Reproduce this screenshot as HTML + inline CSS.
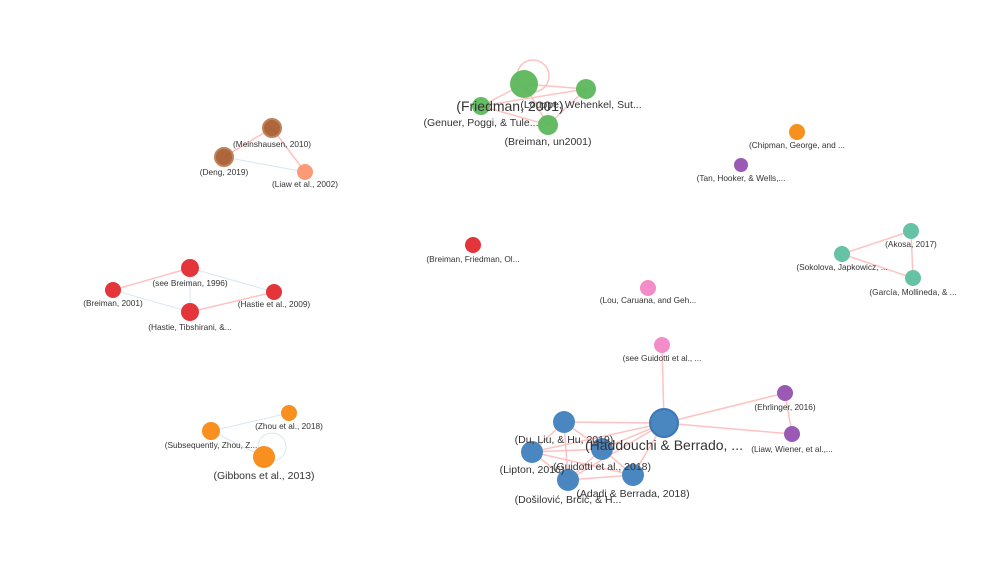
<!DOCTYPE html>
<html><head><meta charset="utf-8"><style>
html,body{margin:0;padding:0;background:#fff;}
svg{display:block;font-family:"Liberation Sans",sans-serif;}
.s{font-size:8.3px;fill:#333;text-anchor:middle}
.m{font-size:10.5px;fill:#333;text-anchor:middle}
.l{font-size:14px;fill:#333;text-anchor:middle}
.e{stroke:#ffb3b3;stroke-width:1.5;fill:none;opacity:.8}
.b{stroke:#cfe0f0;stroke-width:1;fill:none;opacity:.8}
</style></head><body>
<svg width="1000" height="588" viewBox="0 0 1000 588">
<circle cx="533" cy="76" r="16" class="e"/>
<line x1="524" y1="84" x2="481" y2="106" class="e"/>
<line x1="524" y1="84" x2="586" y2="89" class="e"/>
<line x1="524" y1="84" x2="548" y2="125" class="e"/>
<line x1="481" y1="106" x2="586" y2="89" class="e"/>
<line x1="481" y1="106" x2="548" y2="125" class="e"/>
<line x1="586" y1="89" x2="548" y2="125" class="e"/>
<line x1="272" y1="128" x2="224" y2="157" class="e"/>
<line x1="272" y1="128" x2="305" y2="172" class="e"/>
<line x1="224" y1="157" x2="305" y2="172" class="b"/>
<line x1="113" y1="290" x2="190" y2="268" class="e"/>
<line x1="190" y1="312" x2="274" y2="292" class="e"/>
<line x1="113" y1="290" x2="190" y2="312" class="b"/>
<line x1="190" y1="268" x2="274" y2="292" class="b"/>
<line x1="190" y1="268" x2="190" y2="312" class="b"/>
<line x1="911" y1="231" x2="842" y2="254" class="e"/>
<line x1="911" y1="231" x2="913" y2="278" class="e"/>
<line x1="842" y1="254" x2="913" y2="278" class="e"/>
<line x1="289" y1="413" x2="211" y2="431" class="b"/>
<line x1="211" y1="431" x2="264" y2="457" class="b"/>
<circle cx="272" cy="447" r="14" class="b"/>
<line x1="662" y1="345" x2="664" y2="423" class="e"/>
<line x1="664" y1="423" x2="785" y2="393" class="e"/>
<line x1="664" y1="423" x2="792" y2="434" class="e"/>
<line x1="785" y1="393" x2="792" y2="434" class="e"/>
<line x1="664" y1="423" x2="564" y2="422" class="e"/>
<line x1="664" y1="423" x2="532" y2="452" class="e"/>
<line x1="664" y1="423" x2="602" y2="449" class="e"/>
<line x1="664" y1="423" x2="568" y2="480" class="e"/>
<line x1="664" y1="423" x2="633" y2="475" class="e"/>
<line x1="564" y1="422" x2="532" y2="452" class="e"/>
<line x1="564" y1="422" x2="602" y2="449" class="e"/>
<line x1="564" y1="422" x2="568" y2="480" class="e"/>
<line x1="532" y1="452" x2="602" y2="449" class="e"/>
<line x1="532" y1="452" x2="568" y2="480" class="e"/>
<line x1="532" y1="452" x2="633" y2="475" class="e"/>
<line x1="602" y1="449" x2="633" y2="475" class="e"/>
<line x1="602" y1="449" x2="568" y2="480" class="e"/>
<line x1="568" y1="480" x2="633" y2="475" class="e"/>
<g fill="#5cb85c" opacity=".95">
<circle cx="524" cy="84" r="14"/><circle cx="481" cy="106" r="9"/><circle cx="586" cy="89" r="10"/><circle cx="548" cy="125" r="10"/>
</g>
<circle cx="272" cy="128" r="9" fill="#a65628" stroke="#b8774a" stroke-width="2" opacity=".9"/>
<circle cx="224" cy="157" r="9" fill="#a65628" stroke="#b8774a" stroke-width="2" opacity=".9"/>
<circle cx="305" cy="172" r="8" fill="#fc9a78"/>
<circle cx="797" cy="132" r="8" fill="#f7901e"/>
<circle cx="741" cy="165" r="7" fill="#9b59b6"/>
<g fill="#e3353a"><circle cx="473" cy="245" r="8"/><circle cx="190" cy="268" r="9"/><circle cx="113" cy="290" r="8"/><circle cx="274" cy="292" r="8"/><circle cx="190" cy="312" r="9"/></g>
<g fill="#66c2a5"><circle cx="911" cy="231" r="8"/><circle cx="842" cy="254" r="8"/><circle cx="913" cy="278" r="8"/></g>
<g fill="#f48cc8"><circle cx="648" cy="288" r="8"/><circle cx="662" cy="345" r="8"/></g>
<g fill="#9b59b6"><circle cx="785" cy="393" r="8"/><circle cx="792" cy="434" r="8"/></g>
<g fill="#f7901e"><circle cx="289" cy="413" r="8"/><circle cx="211" cy="431" r="9"/><circle cx="264" cy="457" r="11"/></g>
<g fill="#4a86c0"><circle cx="664" cy="423" r="14" stroke="#3a78b5" stroke-width="2"/><circle cx="564" cy="422" r="11"/><circle cx="532" cy="452" r="11"/><circle cx="602" cy="449" r="11"/><circle cx="568" cy="480" r="11"/><circle cx="633" cy="475" r="11"/></g>
<text class="m" x="581" y="108">(Louppe, Wehenkel, Sut...</text>
<text class="m" x="481" y="126">(Genuer, Poggi, &amp; Tule...</text>
<text class="l" x="510" y="111">(Friedman, 2001)</text>
<text class="m" x="548" y="145">(Breiman, un2001)</text>
<text class="s" x="272" y="147">(Meinshausen, 2010)</text>
<text class="s" x="224" y="175">(Deng, 2019)</text>
<text class="s" x="305" y="187">(Liaw et al., 2002)</text>
<text class="s" x="797" y="148">(Chipman, George, and ...</text>
<text class="s" x="741" y="181">(Tan, Hooker, &amp; Wells,...</text>
<text class="s" x="473" y="262">(Breiman, Friedman, Ol...</text>
<text class="s" x="190" y="286">(see Breiman, 1996)</text>
<text class="s" x="113" y="306">(Breiman, 2001)</text>
<text class="s" x="274" y="307">(Hastie et al., 2009)</text>
<text class="s" x="190" y="330">(Hastie, Tibshirani, &amp;...</text>
<text class="s" x="911" y="247">(Akosa, 2017)</text>
<text class="s" x="842" y="270">(Sokolova, Japkowicz, ...</text>
<text class="s" x="913" y="295">(García, Mollineda, &amp; ...</text>
<text class="s" x="648" y="303">(Lou, Caruana, and Geh...</text>
<text class="s" x="662" y="361">(see Guidotti et al., ...</text>
<text class="s" x="785" y="410">(Ehrlinger, 2016)</text>
<text class="s" x="792" y="452">(Liaw, Wiener, et al.,...</text>
<text class="s" x="289" y="429">(Zhou et al., 2018)</text>
<text class="s" x="211" y="448">(Subsequently, Zhou, Z...</text>
<text class="m" x="264" y="479">(Gibbons et al., 2013)</text>
<text class="m" x="564" y="443">(Du, Liu, &amp; Hu, 2019)</text>
<text class="m" x="532" y="473">(Lipton, 2016)</text>
<text class="m" x="602" y="470">(Guidotti et al., 2018)</text>
<text class="m" x="633" y="497">(Adadi &amp; Berrada, 2018)</text>
<text class="m" x="568" y="503">(Došilović, Brčić, &amp; H...</text>
<text class="l" x="664" y="450">(Haddouchi &amp; Berrado, ...</text>
</svg>
</body></html>
